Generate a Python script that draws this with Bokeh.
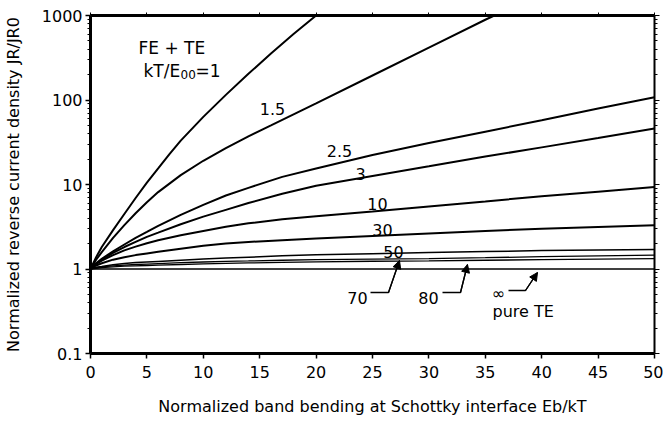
import numpy as np
from bokeh.plotting import figure
from bokeh.models import (Range1d, LinearAxis, LogAxis, FixedTicker, Label,
                          Arrow, NormalHead, CustomJSTickFormatter)
from bokeh.embed import file_html
from bokeh.resources import INLINE

# Normalized band bending E_b/kT (abscissa) for each family of curves
x_k1 = [0, 0.5, 1, 2, 3, 4, 5, 6, 7, 8, 10, 12, 14, 16, 18, 20]
x_k15 = [0, 0.5, 1, 2, 3, 4, 5, 6, 8, 10, 12, 14, 16, 18, 20, 25, 30, 35, 35.8]
x_grid = [0, 0.5, 1, 2, 3, 4, 5, 6, 8, 10, 12, 14, 17, 20, 25, 30, 35, 40, 45, 50]
x_te = [0, 50]

# Normalized reverse current density J_R/J_R0 for kT/E00 = 1 ... 80 and pure TE
j_k1 = [1, 1.38, 1.82, 2.88, 4.47, 6.92, 10.5, 15.5, 22.9, 33.1, 63.1, 115, 204, 355, 603, 1000]
j_k15 = [1, 1.29, 1.58, 2.34, 3.31, 4.57, 6.17, 8.13, 12.9, 19.1, 26.9, 37.2, 50.1, 67.6, 91.2,
         195, 417, 891, 1000]
j_k25 = [1, 1.17, 1.32, 1.62, 1.95, 2.34, 2.75, 3.24, 4.37, 5.75, 7.41, 9.12, 12.3, 15.5, 22.4,
         30.9, 42.2, 57.5, 79.4, 108]
j_k3 = [1, 1.15, 1.29, 1.55, 1.82, 2.09, 2.40, 2.69, 3.39, 4.17, 5.01, 6.03, 7.76, 9.66, 12.6,
        16.4, 21.4, 27.5, 35.5, 46.1]
j_k10 = [1, 1.15, 1.26, 1.46, 1.66, 1.84, 2.02, 2.19, 2.51, 2.82, 3.16, 3.47, 3.89, 4.22, 4.79,
         5.50, 6.31, 7.24, 8.22, 9.33]
j_k30 = [1, 1.10, 1.17, 1.29, 1.38, 1.46, 1.53, 1.60, 1.74, 1.88, 2.00, 2.09, 2.19, 2.29, 2.45,
         2.63, 2.82, 2.99, 3.14, 3.30]
j_k50 = [1, 1.05, 1.07, 1.12, 1.16, 1.19, 1.21, 1.23, 1.27, 1.31, 1.35, 1.38, 1.43, 1.47, 1.52,
         1.57, 1.61, 1.65, 1.68, 1.70]
j_k70 = [1, 1.035, 1.06, 1.09, 1.11, 1.13, 1.145, 1.16, 1.19, 1.21, 1.23, 1.245, 1.27, 1.29, 1.31,
         1.33, 1.36, 1.40, 1.43, 1.46]
j_k80 = [1, 1.02, 1.04, 1.06, 1.08, 1.09, 1.10, 1.11, 1.13, 1.15, 1.165, 1.18, 1.20, 1.215, 1.235,
         1.25, 1.27, 1.29, 1.31, 1.33]
j_te = [1, 1]

x_ticks = [0, 5, 10, 15, 20, 25, 30, 35, 40, 45, 50]
y_ticks = [0.1, 1, 10, 100, 1000]

FONT = "DejaVu Sans"

# frame geometry (canvas pixels), used to place annotations
FRAME_L, FRAME_T, FRAME_W, FRAME_H = 90, 15, 564, 338


def at(px, py):
    """Canvas pixel position -> data coordinates of the log-y frame."""
    return (px - FRAME_L) / FRAME_W * 50.0, 10 ** (3 - 4.0 * (py - FRAME_T) / FRAME_H)


p = figure(width=663, height=422, x_range=Range1d(0, 50), y_range=Range1d(0.1, 1000),
           y_axis_type="log", output_backend="svg", toolbar_location=None,
           min_border_left=FRAME_L, min_border_right=663 - FRAME_L - FRAME_W,
           min_border_top=FRAME_T, min_border_bottom=422 - FRAME_T - FRAME_H)
p.grid.visible = False
p.outline_line_color = None
p.background_fill_color = "white"
p.border_fill_color = "white"

minor_y = [m * t for t in y_ticks[:-1] for m in range(2, 10)]

xa = p.xaxis[0]
xa.ticker = FixedTicker(ticks=x_ticks, minor_ticks=[])
xa.axis_line_width = 3
xa.major_tick_out = 5
xa.major_tick_in = 0
xa.major_tick_line_width = 1.5
xa.major_label_standoff = 7
xa.major_label_text_font = FONT
xa.major_label_text_font_size = "16px"
xa.major_label_text_color = "black"
xa.axis_label = "Normalized band bending at Schottky interface Eb/kT"
xa.axis_label_standoff = 16
xa.axis_label_text_font = FONT
xa.axis_label_text_font_size = "16px"
xa.axis_label_text_font_style = "normal"
xa.axis_label_text_color = "black"

ya = p.yaxis[0]
ya.ticker = FixedTicker(ticks=y_ticks, minor_ticks=minor_y)
ya.formatter = CustomJSTickFormatter(code="return String(tick)")
ya.axis_line_width = 3
ya.major_tick_out = 5
ya.major_tick_in = 0
ya.minor_tick_out = 3
ya.minor_tick_in = 0
ya.major_tick_line_width = 1.5
ya.major_label_standoff = 3
ya.major_label_text_font = FONT
ya.major_label_text_font_size = "16px"
ya.major_label_text_color = "black"
ya.axis_label = "Normalized reverse current density JR/JR0"
ya.axis_label_standoff = 16
ya.axis_label_text_font = FONT
ya.axis_label_text_font_size = "16px"
ya.axis_label_text_font_style = "normal"
ya.axis_label_text_color = "black"

# frame axes on the top and right carry ticks only
blank = CustomJSTickFormatter(code="return ''")
top = LinearAxis(ticker=FixedTicker(ticks=x_ticks, minor_ticks=[]), formatter=blank,
                 axis_line_width=3, major_tick_out=3, major_tick_in=0,
                 major_label_standoff=0, major_label_text_font_size="8px")
right = LogAxis(ticker=FixedTicker(ticks=y_ticks, minor_ticks=minor_y), formatter=blank,
                axis_line_width=2, major_tick_out=5, major_tick_in=0, minor_tick_out=3,
                minor_tick_in=0, major_label_standoff=0, major_label_text_font_size="8px")
p.add_layout(top, "above")
p.add_layout(right, "right")

# curves
for xs, ys, w in [(x_k1, j_k1, 2), (x_k15, j_k15, 2), (x_grid, j_k25, 2), (x_grid, j_k3, 2),
                  (x_grid, j_k10, 2), (x_grid, j_k30, 2), (x_grid, j_k50, 1.5),
                  (x_grid, j_k70, 1.3), (x_grid, j_k80, 1.3), (x_te, j_te, 1.5)]:
    p.line(xs, ys, line_color="black", line_width=w)


def label(px, py, text, size="16px", align="left"):
    x, y = at(px, py)
    p.add_layout(Label(x=x, y=y, text=text, text_font=FONT, text_font_size=size,
                       text_color="black", text_align=align, text_baseline="alphabetic"))


# in-plot annotations
label(138, 47, "FE + TE", "17px")
label(143, 70, "kT/E", "17px")
label(180, 74, "00", "12px")
label(195, 70, "=1", "17px")

label(272, 108, "1.5", align="center")
label(339, 150, "2.5", align="center")
label(360, 173, "3", align="center")
label(377, 203, "10", align="center")
label(382, 229, "30", align="center")
label(393, 251, "50", align="center")
label(357, 297, "70", align="center")
label(428, 297, "80", align="center")
label(498, 293, "\u221e", align="center")
label(492, 311, "pure TE")

# leader lines with arrow heads
for pts in [[(370, 292), (388, 292), (399, 260)],
            [(442, 292), (460, 292), (467, 264)],
            [(508, 290), (525, 290), (537, 272)]]:
    xs, ys = zip(*[at(a, b) for a, b in pts])
    p.line(list(xs), list(ys), line_color="black", line_width=1.3)
    p.add_layout(Arrow(end=NormalHead(size=8, fill_color="black", line_color="black"),
                       x_start=xs[1], y_start=ys[1], x_end=xs[2], y_end=ys[2],
                       line_color="black", line_width=1.3))

open("out.html", "w").write(file_html(p, INLINE))
